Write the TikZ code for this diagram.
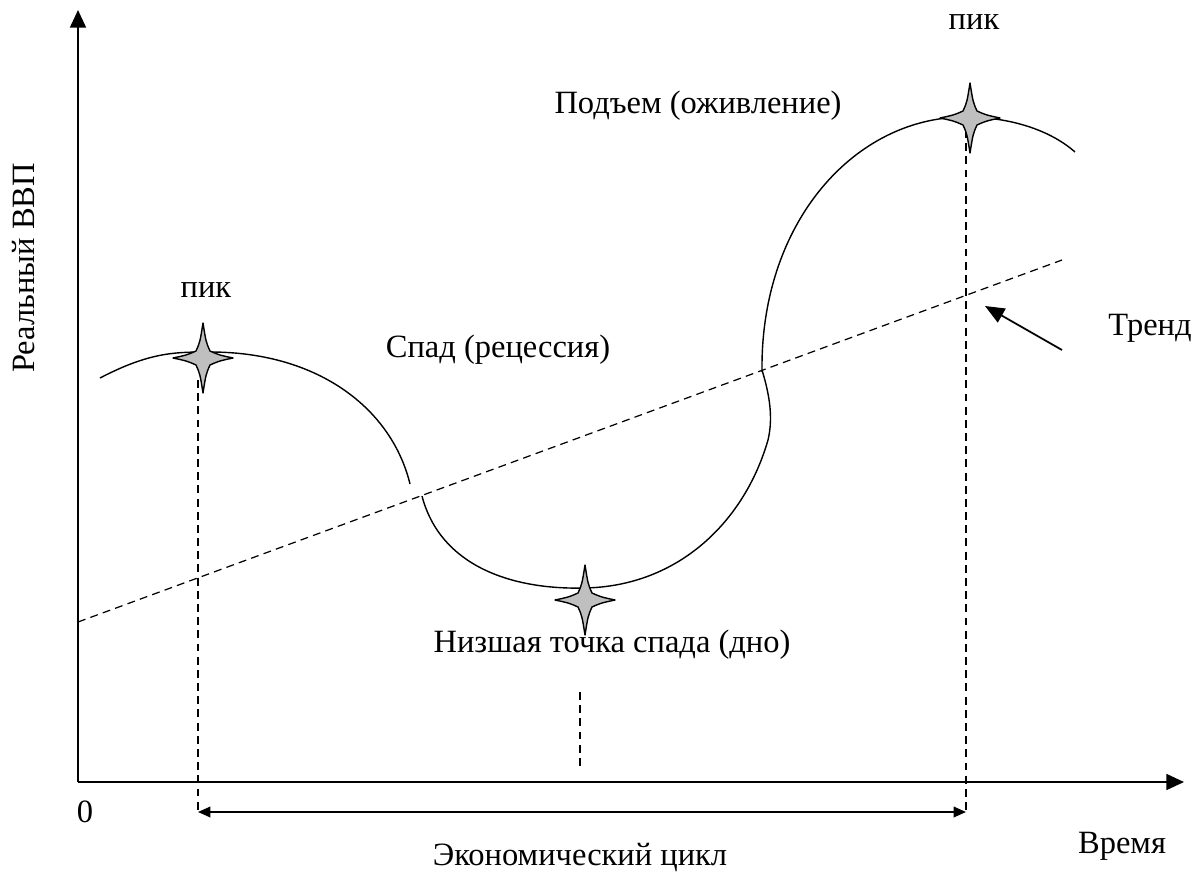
\documentclass[tikz,border=0pt]{standalone}
\usepackage{fontspec}
\setmainfont{Liberation Serif}
\usetikzlibrary{arrows.meta}
\tikzset{
  axis/.style={line width=1.2pt,-{Triangle[length=10pt,width=9pt]}},
  curve/.style={line width=0.8pt},
  guide/.style={line width=0.7pt,dash pattern=on 4.5pt off 3pt},
  starfill/.style={draw,line width=0.8pt,fill=black!25,line join=round},
  lbl/.style={inner sep=1pt}
}
\newcommand{\peakstar}[1]{%
  \draw[starfill,shift={(#1)}] (0,-35) .. controls (3,-16) .. (7,-7) .. controls (16,-3) .. (30,0)
    .. controls (16,3) .. (7,7) .. controls (3,16) .. (0,35) .. controls (-3,16) .. (-7,7)
    .. controls (-16,3) .. (-30,0) .. controls (-16,-3) .. (-7,-7) .. controls (-3,-16) .. cycle;}
\begin{document}
\begin{tikzpicture}[x=0.02cm,y=-0.02cm,font=\fontsize{18.5}{22}\selectfont,>=Latex]
  \useasboundingbox (0,0) rectangle (1192,878);
  % axes
  \coordinate (O) at (78,782);
  \coordinate (ytop) at (78,10);
  \coordinate (xend) at (1184,782);
  \draw[axis] (O) -- (ytop);
  \draw[axis] (O) -- (xend);
  \node[lbl] (zero) at (85,812) {0};
  \node[lbl,rotate=90] (ylab) at (24,268) {Реальный ВВП};
  \node[lbl] (xlab) at (1122,846) {Время};
  % trend
  \coordinate (tr0) at (78,622);
  \coordinate (tr1) at (1062,260);
  \draw[guide] (tr0) -- (tr1);
  \node[lbl] (trend) at (1150,328) {Тренд};
  \coordinate (trtail) at (1062,350);
  \coordinate (trhead) at (985,306);
  \draw[line width=1pt,-{Triangle[length=11pt,width=9pt]}] (trtail) -- (trhead);
  % cycle curve
  \coordinate (pk1) at (203,358);
  \coordinate (lo) at (585,600);
  \coordinate (pk2) at (970,118);
  \draw[curve] (100,378) .. controls (150,352) and (175,352) .. (210,352)
    .. controls (320,352) and (392,410) .. (410,484);
  \draw[curve] (422,496) .. controls (440,565) and (510,590) .. (585,588)
    .. controls (680,586) and (745,520) .. (768,440)
    .. controls (774,415) and (768,390) .. (762,370);
  \draw[curve] (762,372) .. controls (760,222) and (855,117) .. (965,117)
    .. controls (1010,117) and (1050,130) .. (1075,152);
  % guides to time axis
  \coordinate (ft1) at (198,812);
  \coordinate (ft2) at (966,812);
  \draw[guide] (198,380) -- (ft1);
  \draw[guide] (966,130) -- (ft2);
  \draw[guide] (580,692) -- (580,768);
  \draw[line width=1pt,{Triangle[length=7pt,width=6pt]}-{Triangle[length=7pt,width=6pt]}] (ft1) -- (ft2);
  \node[lbl] (cyc) at (580,858) {Экономический цикл};
  % stars
  \peakstar{pk1}
  \peakstar{lo}
  \peakstar{pk2}
  % phase labels
  \node[lbl] (pik1) at (206,290) {пик};
  \node[lbl] (pik2) at (974,22) {пик};
  \node[lbl] (down) at (498,350) {Спад (рецессия)};
  \node[lbl] (up) at (698,106) {Подъем (оживление)};
  \node[lbl] (bottom) at (612,645) {Низшая точка спада (дно)};
\end{tikzpicture}
\end{document}
